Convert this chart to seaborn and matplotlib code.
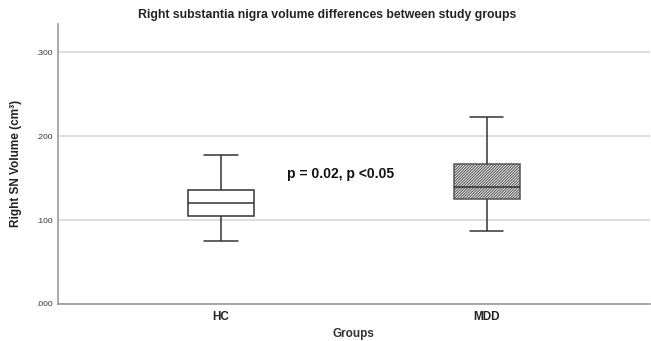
import numpy as np
import pandas as pd
import matplotlib
matplotlib.use("Agg")
import matplotlib.pyplot as plt
import seaborn as sns

# Five-number summaries (min, Q1, median, Q3, max) of right SN volume, cm³
groups = ["HC", "MDD"]
hc_summary = [0.0755, 0.1046, 0.1200, 0.1357, 0.1770]
mdd_summary = [0.0874, 0.1246, 0.1398, 0.1665, 0.2228]
y_ticks = [0.0, 0.1, 0.2, 0.3]
y_tick_labels = [".000", ".100", ".200", ".300"]
annotation = "p = 0.02, p <0.05"

df = pd.DataFrame({
    "Groups": ["HC"] * len(hc_summary) + ["MDD"] * len(mdd_summary),
    "Volume": hc_summary + mdd_summary,
})

sns.set_style("white")
plt.rcParams["font.family"] = ["Liberation Sans", "DejaVu Sans"]
plt.rcParams["hatch.linewidth"] = 0.8

fig = plt.figure(figsize=(6.51, 3.41), dpi=100)
ax = fig.add_axes([0.089, 0.109, 0.909, 0.821])

sns.boxplot(data=df, x="Groups", y="Volume", order=groups, width=0.25,
            whis=np.inf, color="white", linecolor="#333333", linewidth=1.1,
            ax=ax)

# Dense diagonal hatching on the MDD box
boxes = [p for p in ax.patches]
if len(boxes) >= 2:
    boxes[1].set_hatch("////////////")
    boxes[1].set_edgecolor("#555555")

ax.set_xlim(-0.613, 1.613)
ax.set_ylim(0, 0.334)
ax.set_yticks(y_ticks)
ax.set_yticklabels(y_tick_labels, fontsize=6, color="#333333")
ax.tick_params(axis="y", length=0, pad=4)
ax.tick_params(axis="x", length=0, pad=5)
for lbl in ax.get_xticklabels():
    lbl.set_fontweight("bold")
    lbl.set_fontsize(8.5)
    lbl.set_color("#222222")

ax.yaxis.grid(True, color="#d9d9d9", linewidth=1.2)
ax.set_axisbelow(True)
for side in ["top", "right"]:
    ax.spines[side].set_visible(False)
for side in ["left", "bottom"]:
    ax.spines[side].set_color("#999999")
    ax.spines[side].set_linewidth(1.2)

ax.set_xlabel("Groups", fontsize=8.5, fontweight="bold", color="#333333", labelpad=4)
ax.set_ylabel("Right SN Volume (cm³)", fontsize=8.5, fontweight="bold", color="#222222", labelpad=10)

ax.text(0.45, 0.1545, annotation, ha="center", va="center",
        fontsize=10, fontweight="bold", color="#111111")

fig.suptitle("Right substantia nigra volume differences between study groups",
             x=0.503, y=0.975, fontsize=8.8, fontweight="bold", color="#222222")

fig.savefig("out.png", dpi=100)
